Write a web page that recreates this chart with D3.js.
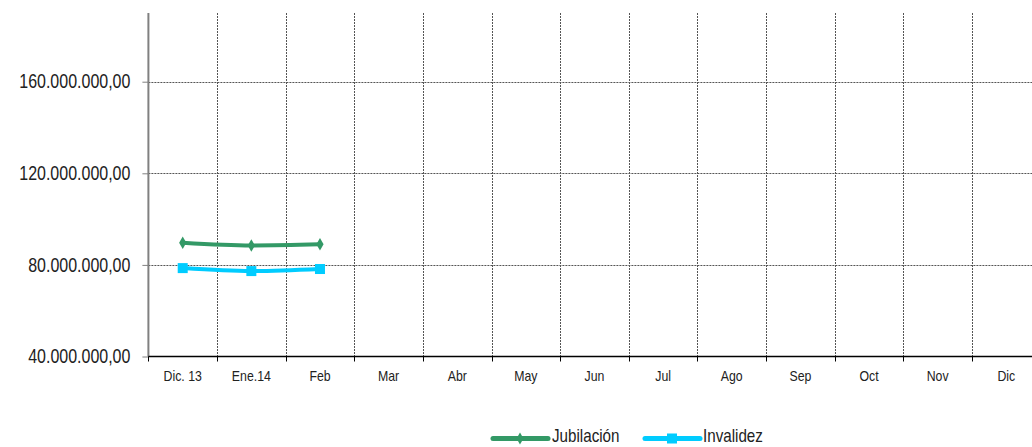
<!DOCTYPE html>
<html><head><meta charset="utf-8">
<script src="https://cdn.jsdelivr.net/npm/d3@7"></script>
<style>
html,body{margin:0;padding:0;background:#fff;overflow:hidden;}
svg{display:block;}
text{font-family:"Liberation Sans",Arial,sans-serif;fill:#222;}
</style></head><body>
<svg id="chart" width="1032" height="447"></svg>
<script>
const categories = ["Dic. 13","Ene.14","Feb","Mar","Abr","May","Jun","Jul","Ago","Sep","Oct","Nov","Dic"];
const jubilacion = [89.7e6, 88.5e6, 89.0e6];
const invalidez = [78.6e6, 77.3e6, 78.2e6];
const yTicks = [40e6, 80e6, 120e6, 160e6];
const yDomain = [40e6, 190e6];
const seriesNames = ["Jubilación", "Invalidez"];
const seriesColors = ["#339966", "#00CCFF"];

const svg = d3.select("#chart");
const pL = 148.4, pR = 1040.6, pT = 13, pB = 356.5;
const x = d3.scaleBand().domain(categories).range([pL, pR]);
const y = d3.scaleLinear().domain(yDomain).range([pB, pT]);
const loc = d3.formatLocale({decimal:",", thousands:".", grouping:[3], currency:["",""]});
const fmt = loc.format(",.2f");
const NARROW = 0.82;
function condense(sel) {
  sel.each(function() {
    const w = this.getComputedTextLength();
    d3.select(this).attr("textLength", w * NARROW).attr("lengthAdjust", "spacingAndGlyphs");
  });
}

// horizontal grid
svg.append("g").selectAll("line").data(yTicks.slice(1)).join("line")
  .attr("x1", pL).attr("x2", 1032)
  .attr("y1", d => Math.round(y(d)) + 0.5).attr("y2", d => Math.round(y(d)) + 0.5)
  .attr("stroke", "#555").attr("stroke-width", 1).attr("stroke-dasharray", "2,1");
// vertical grid at category boundaries
svg.append("g").selectAll("line").data(categories.slice(1)).join("line")
  .attr("x1", d => Math.round(x(d)) + 0.5).attr("x2", d => Math.round(x(d)) + 0.5)
  .attr("y1", pT).attr("y2", pB)
  .attr("stroke", "#555").attr("stroke-width", 1).attr("stroke-dasharray", "2,1");

// y axis
const yAxis = d3.axisLeft(y).tickValues(yTicks).tickFormat(fmt).tickSize(6).tickPadding(12);
const gy = svg.append("g").attr("transform", `translate(${pL},0)`).call(yAxis);
gy.select(".domain").attr("stroke", "#808080").attr("stroke-width", 2).attr("d", `M0,${pT}V${pB}`);
gy.selectAll(".tick line").attr("stroke", "#808080");
gy.selectAll(".tick text").attr("font-size", 19.5).attr("fill", "#222")
  .style("font-family", '"Liberation Sans",Arial,sans-serif').call(condense);

// x axis
const xAxis = d3.axisBottom(x).tickSize(0).tickPadding(14);
const gx = svg.append("g").attr("transform", `translate(0,${pB})`).call(xAxis);
gx.select(".domain").attr("stroke", "#000").attr("stroke-width", 1.5).attr("d", `M${pL},0H1032`);
gx.selectAll(".tick text").attr("font-size", 15).attr("fill", "#222")
  .style("font-family", '"Liberation Sans",Arial,sans-serif').call(condense);
// x boundary ticks
svg.append("g").selectAll("line").data(categories).join("line")
  .attr("x1", d => Math.round(x(d)) + 0.5).attr("x2", d => Math.round(x(d)) + 0.5)
  .attr("y1", pB).attr("y2", pB + 5)
  .attr("stroke", "#000");

// series
const line = d3.line().x((d, i) => x(categories[i]) + x.bandwidth() / 2).y(d => y(d)).curve(d3.curveMonotoneX);
const data = [jubilacion, invalidez];
data.forEach((vals, si) => {
  svg.append("path").datum(vals).attr("d", line).attr("fill", "none")
    .attr("stroke", seriesColors[si]).attr("stroke-width", 4).attr("stroke-linecap", "round");
  const g = svg.append("g");
  vals.forEach((v, i) => {
    const cx = x(categories[i]) + x.bandwidth() / 2, cy = y(v);
    if (si === 0) {
      g.append("path").attr("d", d3.symbol(d3.symbolDiamond, 45)())
        .attr("transform", `translate(${cx},${cy})`).attr("fill", seriesColors[si]);
    } else {
      g.append("rect").attr("x", cx - 5).attr("y", cy - 5).attr("width", 10).attr("height", 10)
        .attr("fill", seriesColors[si]);
    }
  });
});

// legend
const legendItems = [{x: 493, tx: 552}, {x: 645, tx: 703}];
legendItems.forEach((p, si) => {
  const ly = 438.5;
  svg.append("line").attr("x1", p.x).attr("x2", p.x + 55).attr("y1", ly).attr("y2", ly)
    .attr("stroke", seriesColors[si]).attr("stroke-width", 5).attr("stroke-linecap", "round");
  if (si === 0) {
    svg.append("path").attr("d", d3.symbol(d3.symbolDiamond, 40)())
      .attr("transform", `translate(${p.x + 27},${ly})`).attr("fill", seriesColors[si]);
  } else {
    svg.append("rect").attr("x", p.x + 22).attr("y", ly - 5).attr("width", 10).attr("height", 10)
      .attr("fill", seriesColors[si]);
  }
  svg.append("text").attr("x", p.tx).attr("y", 442)
    .attr("font-size", 18.5).text(seriesNames[si]).call(condense);
});
</script>
</body></html>
